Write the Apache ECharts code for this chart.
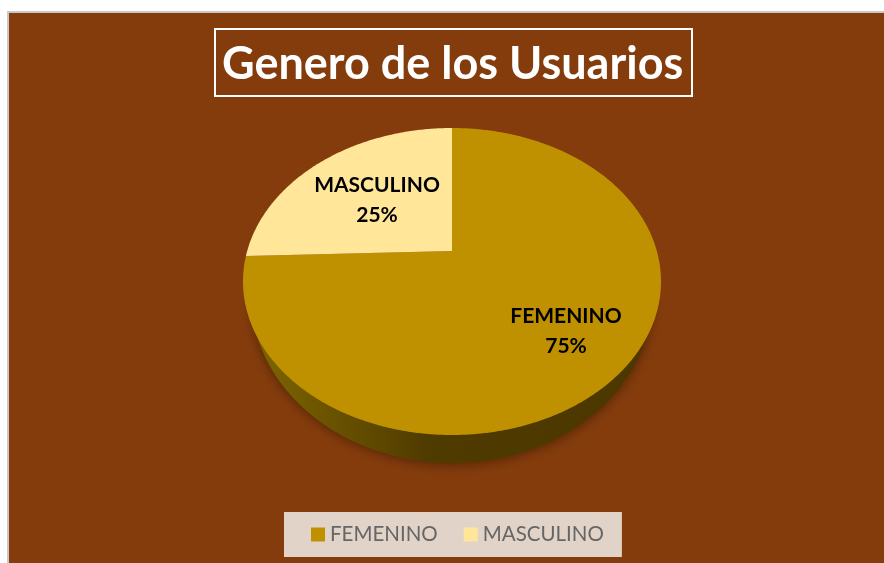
<!DOCTYPE html>
<html lang="es">
<head>
    <meta charset="UTF-8">
    <title>Genero de los Usuarios</title>
    <script src="https://cdn.jsdelivr.net/npm/echarts@6/dist/echarts.min.js"></script>
    <style>
        html, body { margin: 0; background: #fff; }
        .chart { width: 884px; height: 563px; }
    </style>
</head>
<body>
<div class="chart"></div>
<script>
    const categories = ['FEMENINO', 'MASCULINO'];
    const values = [75, 25];
    const colors = ['#bf9000', '#ffe699'];

    // forma del disco (la libreria no tiene pie eliptico, se dibuja con custom)
    const disc = {cx: 452, cy: 281.5, rx: 209, ry: 153.5, apexY: 251, skew: 9.6};
    const base = {cx: 452, cy: 295, rx: 201, ry: 168};
    const labelPos = [[566, 331], [377, 200]];

    const total = values.reduce((a, b) => a + b, 0);

    function rim(e, deg) {
        let r = deg * Math.PI / 180;
        return [e.cx + e.rx * Math.sin(r), e.cy - e.ry * Math.cos(r)];
    }

    // angulo sobre el borde, con la inclinacion de la perspectiva en los cortes internos
    function boundary(sum) {
        let a = sum / total * 360;
        return a > 0 && a < 360 ? a + disc.skew : a;
    }

    function sliceItem(index) {
        return function () {
            let before = values.slice(0, index).reduce((a, b) => a + b, 0);
            let from = boundary(before);
            let to = boundary(before + values[index]);
            let points = [[disc.cx, disc.apexY]];
            for (let a = from; a < to; a += 0.5) points.push(rim(disc, a));
            points.push(rim(disc, to));
            return {
                type: 'group',
                children: [
                    {
                        type: 'polygon',
                        shape: {points},
                        style: {fill: colors[index]}
                    },
                    {
                        type: 'text',
                        x: labelPos[index][0],
                        y: labelPos[index][1],
                        style: {
                            text: categories[index] + '\n' + Math.round(values[index] / total * 100) + '%',
                            align: 'center',
                            verticalAlign: 'middle',
                            font: 'bold 21px Lato',
                            lineHeight: 30,
                            fill: '#000'
                        }
                    }
                ]
            };
        };
    }

    function sideItem() {
        let points = [];
        for (let a = 90; a <= 270; a += 0.5) points.push(rim(base, a));
        return {
            type: 'polygon',
            shape: {points},
            style: {
                fill: new echarts.graphic.LinearGradient(0, 0, 1, 0, [
                    {offset: 0, color: '#7f6600'},
                    {offset: 0.45, color: '#4f3a00'},
                    {offset: 1, color: '#4c3700'}
                ]),
                shadowBlur: 12,
                shadowColor: 'rgba(40,15,0,0.5)',
                shadowOffsetY: 2
            }
        };
    }

    let chart = echarts.init(document.querySelector('.chart'));

    let series = [{
        name: 'lado',
        type: 'custom',
        coordinateSystem: 'none',
        silent: true,
        data: [total],
        renderItem: sideItem
    }];
    categories.forEach((name, i) => {
        series.push({
            name,
            type: 'custom',
            coordinateSystem: 'none',
            silent: true,
            itemStyle: {color: colors[i]},
            data: [values[i]],
            renderItem: sliceItem(i)
        });
    });

    chart.setOption({
        animation: false,
        backgroundColor: '#fff',
        graphic: [{
            type: 'rect',
            z: -1,
            shape: {x: 8, y: 12, width: 900, height: 600},
            style: {fill: '#843c0c', stroke: '#c9c9c9', lineWidth: 2}
        }],
        title: {
            text: 'Genero de los Usuarios',
            left: 215,
            top: 29,
            padding: [10, 9, 7, 7],
            borderColor: '#fff',
            borderWidth: 2,
            textStyle: {color: '#fff', fontFamily: 'Lato', fontWeight: 'bold', fontSize: 45, lineHeight: 50}
        },
        legend: {
            data: categories,
            left: 284,
            top: 512,
            padding: [12, 18, 12, 27],
            backgroundColor: '#e2d3c9',
            icon: 'rect',
            itemWidth: 14,
            itemHeight: 14,
            itemGap: 26,
            selectedMode: false,
            textStyle: {color: '#666', fontFamily: 'Lato', fontSize: 20.5}
        },
        series
    });
</script>
</body>
</html>
